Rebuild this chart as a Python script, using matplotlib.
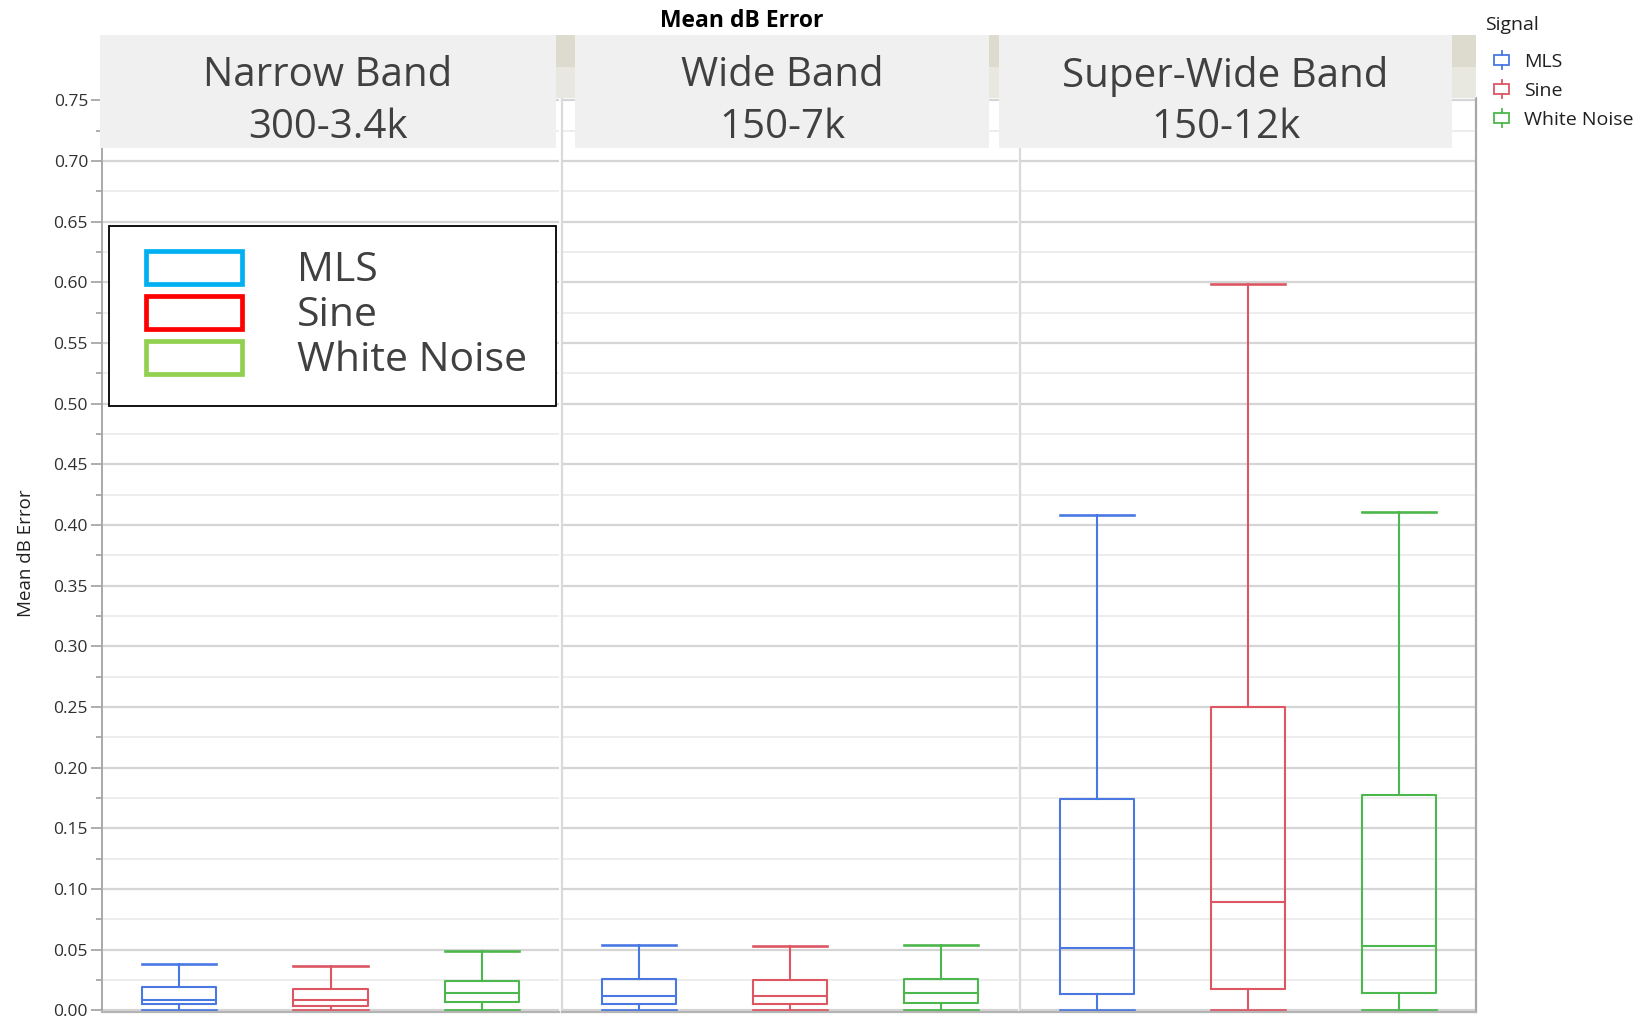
import numpy as np
import matplotlib.pyplot as plt
from matplotlib.patches import Patch, Rectangle
from matplotlib.lines import Line2D
from matplotlib.legend_handler import HandlerBase, HandlerPatch

plt.rcParams['font.family'] = ['Open Sans', 'DejaVu Sans']

bands = ['Narrow Band\n300-3.4k', 'Wide Band\n150-7k', 'Super-Wide Band\n150-12k']
signals = ['MLS', 'Sine', 'White Noise']
box_colors = ['#4a78e2', '#dc5663', '#4cb74c']
key_colors = ['#00b0f0', '#ff0000', '#92d050']

# box statistics, one row per band, one entry per signal
whislo = [[0.0003, 0.0003, 0.0003], [0.0003, 0.0003, 0.0003], [0.0005, 0.0005, 0.0005]]
q1 = [[0.0049, 0.0033, 0.0068], [0.0052, 0.0049, 0.0060], [0.0132, 0.0173, 0.0145]]
med = [[0.0087, 0.0084, 0.0141], [0.0114, 0.0114, 0.0144], [0.0515, 0.0894, 0.0532]]
q3 = [[0.0188, 0.0171, 0.0242], [0.0258, 0.0245, 0.0258], [0.1745, 0.2502, 0.1772]]
whishi = [[0.0378, 0.0361, 0.0489], [0.0541, 0.0527, 0.0541], [0.408, 0.599, 0.411]]

W, H = 1646, 1021


def rect(x, y, w, h):
    # pixel box (from top-left) -> figure fraction
    return [x / W, 1 - (y + h) / H, w / W, h / H]


class BoxIcon(HandlerBase):
    def create_artists(self, legend, orig_handle, xdescent, ydescent,
                       width, height, fontsize, trans):
        c = orig_handle.get_color()
        cx = width / 2 - xdescent
        cy = height / 2 - ydescent
        bw, bh, st = 11, 7.5, 2.8
        box = Rectangle((cx - bw / 2, cy - bh / 2), bw, bh, fill=False,
                        edgecolor=c, lw=1.3, transform=trans)
        up = Line2D([cx, cx], [cy + bh / 2, cy + bh / 2 + st], color=c, lw=1.3, transform=trans)
        dn = Line2D([cx, cx], [cy - bh / 2 - st, cy - bh / 2], color=c, lw=1.3, transform=trans)
        return [up, dn, box]


fig = plt.figure(figsize=(16.46, 10.21), dpi=100)

lefts = [102, 562, 1020]
for i, x0 in enumerate(lefts):
    ax = fig.add_axes(rect(x0, 98, 457 if i == 0 else 456, 914))
    stats = [dict(whislo=whislo[i][j], q1=q1[i][j], med=med[i][j], q3=q3[i][j],
                  whishi=whishi[i][j], fliers=[]) for j in range(3)]
    bp = ax.bxp(stats, positions=[1, 2, 3], widths=0.49, capwidths=0.49,
                showfliers=False, patch_artist=False)
    for j, c in enumerate(box_colors):
        for art in [bp['boxes'][j], bp['medians'][j],
                    bp['whiskers'][2 * j], bp['whiskers'][2 * j + 1],
                    bp['caps'][2 * j], bp['caps'][2 * j + 1]]:
            art.set_color(c)
            art.set_linewidth(1.5)
        for cap in bp['caps'][2 * j:2 * j + 2]:
            cap.set_linewidth(1.9)

    ax.set_xlim(0.49, 3.51)
    ax.set_ylim(-0.0015, 0.752)
    ax.set_yticks(np.arange(0, 0.751, 0.05))
    ax.set_yticks(np.arange(0.025, 0.75, 0.05), minor=True)
    ax.grid(which='major', axis='y', color='#d5d5d5', lw=1.6)
    ax.grid(which='minor', axis='y', color='#ededed', lw=1.4)
    ax.set_axisbelow(True)
    ax.set_xticks([])
    ax.spines['top'].set_visible(False)
    ax.spines['bottom'].set_color('#b4b4b4')
    ax.spines['bottom'].set_linewidth(1.6)
    ax.spines['right'].set_visible(i == 2)
    ax.spines['right'].set_color('#a8a8a8')
    ax.spines['right'].set_linewidth(1.6)
    if i == 0:
        ax.spines['left'].set_color('#a8a8a8')
        ax.spines['left'].set_linewidth(1.4)
        ax.set_yticklabels([f'{v:.2f}' for v in np.arange(0, 0.751, 0.05)])
        ax.tick_params(axis='y', which='major', length=8, width=1.2, color='#a0a0a0',
                       labelsize=12.5, labelcolor='#303030', pad=2)
        ax.tick_params(axis='y', which='minor', length=4, width=1.2, color='#a0a0a0')
    else:
        ax.spines['left'].set_color('#dadada')
        ax.spines['left'].set_linewidth(1.6)
        ax.tick_params(axis='y', which='both', length=0, labelleft=False)

# header band behind the strips
fig.patches.append(Rectangle(rect(556, 35, 920, 32)[:2], 920 / W, 32 / H,
                             transform=fig.transFigure, facecolor='#dcdbcd',
                             edgecolor='none', zorder=2))
fig.patches.append(Rectangle(rect(556, 67, 920, 31)[:2], 920 / W, 31 / H,
                             transform=fig.transFigure, facecolor='#e8e8e0',
                             edgecolor='none', zorder=2))

strips = [(100, 456), (575, 414), (999, 453)]
for (sx, sw), lab in zip(strips, bands):
    r = rect(sx, 35, sw, 113)
    fig.patches.append(Rectangle(r[:2], r[2], r[3], transform=fig.transFigure,
                                 facecolor='#f0f0f0', edgecolor='none', zorder=3))
    fig.text((sx + sw / 2) / W, 1 - 102 / H, lab, ha='center', va='center',
             fontsize=29, color='#404040', linespacing=1.37, zorder=4)

fig.text(742 / W, 1 - 21 / H, 'Mean dB Error', ha='center', va='center',
         fontsize=16.5, fontweight='bold')
fig.text(26 / W, 1 - 553 / H, 'Mean dB Error', ha='center', va='center',
         rotation=90, fontsize=13.5, color='#202020')

# key inside the first panel
key = fig.legend(handles=[Patch(facecolor='white', edgecolor=c, lw=3.4, joinstyle='round')
                          for c in key_colors],
                 labels=signals, loc='upper left',
                 bbox_to_anchor=(109 / W, 1 - 406 / H, 447 / W, 180 / H), mode='expand',
                 handler_map={Patch: HandlerPatch(xpad=0.30)},
                 fontsize=29.5, handlelength=2.65, handleheight=0.88, handletextpad=1.34,
                 labelspacing=0.1, borderpad=0.6, borderaxespad=0, fancybox=False,
                 edgecolor='black', framealpha=1, labelcolor='#404040')
key.get_frame().set_linewidth(1.3)
key.set_zorder(5)

# signal legend at the right
fig.text(1485 / W, 1 - 25 / H, 'Signal', ha='left', va='center', fontsize=14, color='#202020')
sig = fig.legend(handles=[Line2D([], [], color=c) for c in box_colors], labels=signals,
                 handler_map={Line2D: BoxIcon()}, loc='upper left',
                 bbox_to_anchor=(1492 / W, 1 - 53 / H), borderaxespad=0, borderpad=0,
                 frameon=False, fontsize=14, handlelength=1.0,
                 handletextpad=0.65, labelspacing=0.56, labelcolor='#202020')

fig.savefig('out.png', dpi=100)
